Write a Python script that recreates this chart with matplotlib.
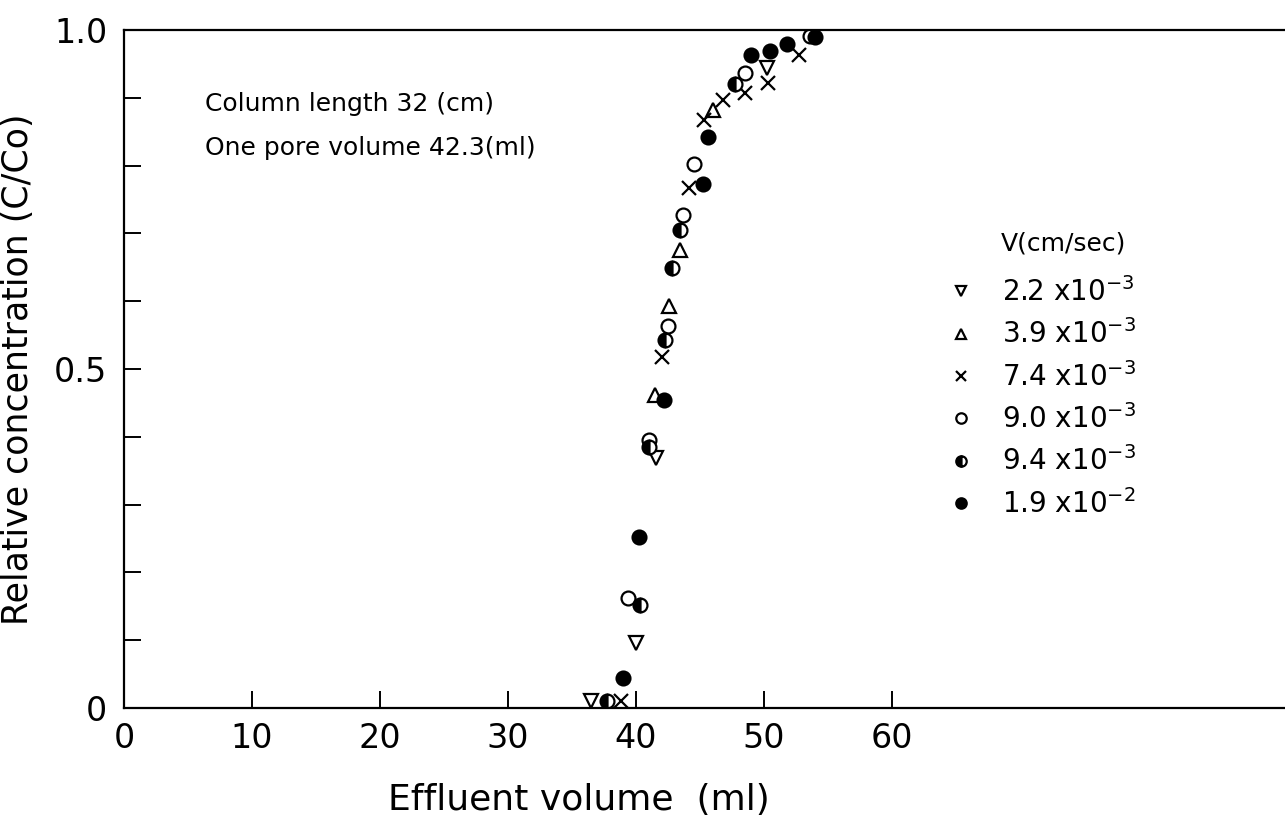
import matplotlib
matplotlib.use("Agg")
import matplotlib.pyplot as plt
from matplotlib.ticker import MultipleLocator, FixedLocator

# breakthrough data, effluent volume (ml) vs C/Co, one list pair per flow velocity
v22_x = [36.5, 40.0, 41.6, 50.2]
v22_y = [0.01, 0.096, 0.369, 0.944]

v39_x = [41.5, 42.6, 43.4, 46.0]
v39_y = [0.462, 0.593, 0.676, 0.882]

v74_x = [38.8, 42.0, 44.1, 45.3, 46.8, 48.5, 50.3, 52.7]
v74_y = [0.01, 0.518, 0.767, 0.867, 0.897, 0.907, 0.922, 0.963]

v90_x = [39.4, 41.0, 42.5, 43.7, 44.5, 48.5, 53.6]
v90_y = [0.162, 0.395, 0.563, 0.727, 0.802, 0.937, 0.991]

v94_x = [37.7, 40.3, 41.0, 42.3, 42.8, 43.4, 47.7]
v94_y = [0.01, 0.152, 0.385, 0.543, 0.649, 0.705, 0.920]

v190_x = [39.0, 40.2, 42.2, 45.2, 45.6, 49.0, 50.5, 51.8, 54.0]
v190_y = [0.044, 0.252, 0.454, 0.773, 0.842, 0.963, 0.969, 0.979, 0.990]

labels = [r"2.2 x$\mathregular{10^{-3}}$", r"3.9 x$\mathregular{10^{-3}}$",
          r"7.4 x$\mathregular{10^{-3}}$", r"9.0 x$\mathregular{10^{-3}}$",
          r"9.4 x$\mathregular{10^{-3}}$", r"1.9 x$\mathregular{10^{-2}}$"]

fig = plt.figure(figsize=(12.85, 8.21), dpi=100)
ax = fig.add_axes([0.0965, 0.1376, 0.9035, 0.826])

ms = 10
kw = dict(linestyle="none", markersize=ms, markeredgewidth=1.6, color="black")
ax.plot(v22_x, v22_y, marker="v", markerfacecolor="white", label=labels[0], **kw)
ax.plot(v39_x, v39_y, marker="^", markerfacecolor="white", label=labels[1], **kw)
ax.plot(v74_x, v74_y, marker="x", label=labels[2], **kw)
ax.plot(v90_x, v90_y, marker="o", markerfacecolor="white", label=labels[3], **kw)
ax.plot(v94_x, v94_y, marker="o", fillstyle="left", markerfacecolor="black",
        markerfacecoloralt="white", label=labels[4], **kw)
ax.plot(v190_x, v190_y, marker="o", markerfacecolor="black", label=labels[5], **kw)

ax.set_xlim(0, 90.7)
ax.set_ylim(0, 1.0)
ax.spines["right"].set_visible(False)
for s in ["left", "bottom", "top"]:
    ax.spines[s].set_linewidth(1.6)

ax.xaxis.set_major_locator(FixedLocator([0, 10, 20, 30, 40, 50, 60]))
ax.yaxis.set_major_locator(FixedLocator([0, 0.5, 1.0]))
ax.yaxis.set_minor_locator(MultipleLocator(0.1))
ax.set_yticklabels(["0", "0.5", "1.0"])
ax.tick_params(axis="both", which="both", direction="in", width=1.4,
               labelsize=24, top=False, right=False)
ax.tick_params(axis="x", which="major", length=12, pad=10)
ax.tick_params(axis="y", which="major", length=12, pad=12)
ax.tick_params(axis="y", which="minor", length=12)

ax.set_xlabel("Effluent volume  (ml)", fontsize=26, labelpad=20, x=0.392)
ax.set_ylabel("Relative concentration (C/Co)", fontsize=25, labelpad=14)

ax.text(0.0698, 0.88, "Column length 32 (cm)", transform=ax.transAxes, fontsize=18)
ax.text(0.0698, 0.815, "One pore volume 42.3(ml)", transform=ax.transAxes, fontsize=18)

ax.text(0.755, 0.675, "V(cm/sec)", transform=ax.transAxes, fontsize=18)
ax.legend(loc="upper left", bbox_to_anchor=(0.699, 0.652), frameon=False,
          fontsize=20, markerscale=0.75, handlelength=1.0, handletextpad=1.0,
          labelspacing=0.45, borderaxespad=0)

fig.savefig("out.png", dpi=100)
